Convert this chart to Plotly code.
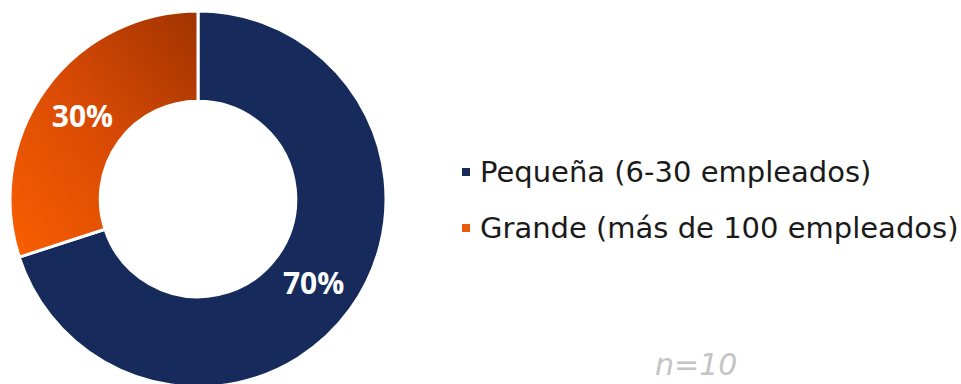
import plotly.graph_objects as go

# Company size distribution
categories = ["Pequeña (6-30 empleados)", "Grande (más de 100 empleados)"]
shares = [70, 30]
slice_colors = ["#162B5B", "#D24A06"]
legend_colors = ["#162B5B", "#E85A0C"]
sample_note = "n=10"

W, H = 961, 398
cx, r = 198, 188

fig = go.Figure()
fig.add_trace(go.Pie(
    labels=categories,
    values=shares,
    hole=0.52,
    sort=False,
    direction="clockwise",
    rotation=0,
    marker=dict(colors=slice_colors, line=dict(color="white", width=3)),
    textinfo="percent",
    texttemplate="%{value}%",
    textposition="inside",
    insidetextorientation="horizontal",
    textfont=dict(family="Open Sans", size=30, color="white", weight="bold"),
    hoverinfo="label+percent",
    showlegend=False,
    domain=dict(x=[(cx - r) / W, (cx + r) / W], y=[0, 1]),
))

# Legend rows: colored square + label
row_y = [172, 228]
shapes = []
annotations = []
for name, col, yc in zip(categories, legend_colors, row_y):
    shapes.append(dict(
        type="rect", xref="paper", yref="paper",
        x0=462 / W, x1=470 / W, y0=1 - (yc + 4) / H, y1=1 - (yc - 4) / H,
        fillcolor=col, line=dict(width=0),
    ))
    annotations.append(dict(
        text=name, xref="paper", yref="paper",
        x=478 / W, y=1 - yc / H, xanchor="left", yanchor="middle",
        showarrow=False,
        font=dict(family="DejaVu Sans", size=29, color="#1A1A1A"),
    ))

annotations.append(dict(
    text=sample_note, xref="paper", yref="paper",
    x=696 / W, y=1 - 364 / H, xanchor="center", yanchor="middle",
    showarrow=False,
    font=dict(family="DejaVu Sans", size=30, color="#C4C4C4", style="italic"),
))

fig.update_layout(
    width=W, height=H,
    margin=dict(l=0, r=0, t=0, b=0),
    paper_bgcolor="white",
    plot_bgcolor="white",
    shapes=shapes,
    annotations=annotations,
)

post = """
document.documentElement.style.overflow='hidden';
document.body.style.overflow='hidden';
document.body.style.margin='0';
var gd = document.getElementsByClassName('plotly-graph-div')[0];
var svg = gd.querySelector('svg.main-svg');
var ns = 'http://www.w3.org/2000/svg';
var defs = svg.querySelector('defs') || svg.insertBefore(document.createElementNS(ns,'defs'), svg.firstChild);
var lg = document.createElementNS(ns,'linearGradient');
lg.setAttribute('id','orangeGrad');
lg.setAttribute('x1','0'); lg.setAttribute('y1','1');
lg.setAttribute('x2','1'); lg.setAttribute('y2','0');
[['0','#FA5F00'],['0.5','#D84A04'],['1','#A03300']].forEach(function(s){
  var st = document.createElementNS(ns,'stop');
  st.setAttribute('offset', s[0]); st.setAttribute('stop-color', s[1]);
  lg.appendChild(st);
});
defs.appendChild(lg);
var slices = gd.querySelectorAll('g.slice path.surface');
if (slices.length > 1) { slices[1].style.fill = 'url(#orangeGrad)'; }
"""

fig.write_html("out.html", post_script=post)
